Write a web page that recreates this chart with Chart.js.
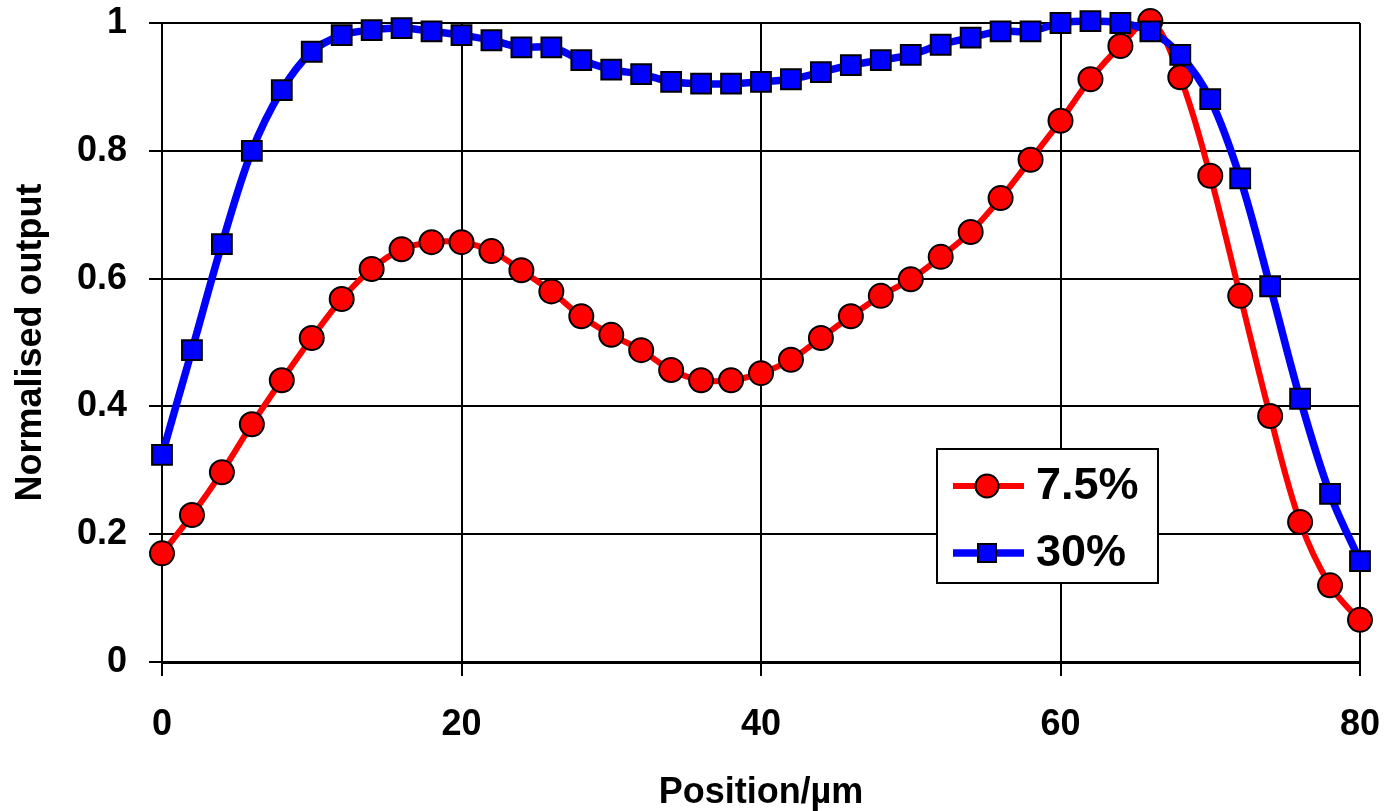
<!DOCTYPE html>
<html>
<head>
<meta charset="utf-8">
<script src="https://cdn.jsdelivr.net/npm/chart.js@4/dist/chart.umd.min.js"></script>
<style>
  html, body { margin: 0; padding: 0; background: #fff; }
  #wrap { width: 1391px; height: 811px; position: relative; }
</style>
</head>
<body>
<div id="wrap"><canvas id="profileChart"></canvas></div>
<script>
// Position along the sample (µm)
const positions = [0, 2, 4, 6, 8, 10, 12, 14, 16, 18, 20, 22, 24, 26, 28, 30, 32, 34, 36, 38, 40,
  42, 44, 46, 48, 50, 52, 54, 56, 58, 60, 62, 64, 66, 68, 70, 72, 74, 76, 78, 80, 82];

// 7.5% series (last value runs just past the axis edge)
const output75 = [0.17, 0.23, 0.297, 0.372, 0.441, 0.507, 0.568, 0.615, 0.646, 0.657, 0.657,
  0.643, 0.613, 0.58, 0.541, 0.512, 0.488, 0.457, 0.441, 0.441, 0.452, 0.473, 0.507, 0.541,
  0.573, 0.599, 0.634, 0.673, 0.726, 0.786, 0.847, 0.912, 0.964, 1.003, 0.915, 0.761, 0.573,
  0.385, 0.219, 0.12, 0.066, 0.03];

// 30% series
const output30 = [0.324, 0.488, 0.654, 0.80, 0.895, 0.955, 0.981, 0.989, 0.992, 0.987, 0.981,
  0.973, 0.962, 0.962, 0.942, 0.927, 0.92, 0.908, 0.905, 0.905, 0.908, 0.912, 0.923, 0.934,
  0.942, 0.95, 0.966, 0.977, 0.987, 0.987, 1.0, 1.003, 1.0, 0.987, 0.95, 0.881, 0.757, 0.588,
  0.412, 0.263, 0.158];

const seriesLabels = ["7.5%", "30%"];
const xTicks = [0, 20, 40, 60, 80];
const yTicks = [0, 0.2, 0.4, 0.6, 0.8, 1];

const FONT = "'Liberation Sans', Arial, sans-serif";

function toPoints(values) {
  return values.map((v, i) => ({ x: positions[i], y: v }));
}

// drop the label-overflow padding so the plot box sits where the original does
function noScalePadding(s) {
  s.paddingLeft = 0;
  s.paddingRight = 0;
  s.paddingTop = 0;
  s.paddingBottom = 0;
}

// Draws the boxed legend inside the plot, like the original figure
const boxLegend = {
  id: "boxLegend",
  afterDatasetsDraw(chart) {
    const ctx = chart.ctx;
    const left = 937, top = 449, w = 221, h = 134;
    ctx.save();
    ctx.fillStyle = "#fff";
    ctx.fillRect(left, top, w, h);
    ctx.lineWidth = 2;
    ctx.strokeStyle = "#000";
    ctx.strokeRect(left, top, w, h);

    const rows = [486, 553];
    chart.data.datasets.forEach((ds, i) => {
      const y = rows[i];
      ctx.strokeStyle = ds.borderColor;
      ctx.lineWidth = ds.borderWidth;
      ctx.beginPath();
      ctx.moveTo(953, y);
      ctx.lineTo(1024, y);
      ctx.stroke();

      ctx.fillStyle = ds.pointBackgroundColor;
      ctx.strokeStyle = "#000";
      ctx.lineWidth = 2;
      ctx.beginPath();
      if (ds.pointStyle === "rect") {
        ctx.rect(987 - 9, y - 9, 18, 18);
      } else {
        ctx.arc(987, y, 11.5, 0, Math.PI * 2);
      }
      ctx.fill();
      ctx.stroke();

      ctx.fillStyle = "#000";
      ctx.font = "bold 45px " + FONT;
      ctx.textAlign = "left";
      ctx.textBaseline = "middle";
      ctx.fillText(ds.label, 1036, y + 1);
    });
    ctx.restore();
  }
};

const ctx = document.getElementById("profileChart").getContext("2d");
new Chart(ctx, {
  type: "line",
  data: {
    datasets: [
      {
        label: seriesLabels[0],
        data: toPoints(output75),
        borderColor: "#ff0000",
        backgroundColor: "#ff0000",
        pointBackgroundColor: "#ff0000",
        pointBorderColor: "#000",
        pointBorderWidth: 2,
        pointStyle: "circle",
        pointRadius: (c) => (c.raw && c.raw.x > 80 ? 0 : 12),
        borderWidth: 6,
        tension: 0.35,
        clip: { left: 15, top: 15, right: 13, bottom: 15 },
        order: 1
      },
      {
        label: seriesLabels[1],
        data: toPoints(output30),
        borderColor: "#0000ff",
        backgroundColor: "#0000ff",
        pointBackgroundColor: "#0000ff",
        pointBorderColor: "#000",
        pointBorderWidth: 2,
        pointStyle: "rect",
        pointRadius: 14,
        borderWidth: 7.5,
        tension: 0.35,
        clip: { left: 15, top: 15, right: 15, bottom: 15 },
        order: 0
      }
    ]
  },
  options: {
    responsive: true,
    maintainAspectRatio: false,
    animation: false,
    events: [],
    layout: { padding: { top: 23, right: 31, bottom: 0, left: 0 } },
    plugins: {
      legend: { display: false },
      tooltip: { enabled: false }
    },
    scales: {
      x: {
        type: "linear",
        min: 0,
        max: 80,
        afterBuildTicks: (s) => { s.ticks = xTicks.map((v) => ({ value: v })); },
        afterFit: (s) => { s.height = 149; noScalePadding(s); },
        ticks: {
          color: "#000",
          padding: 27,
          maxRotation: 0,
          font: { family: FONT, size: 36, weight: "bold" }
        },
        grid: { color: "#000", lineWidth: 2, tickLength: 14 },
        border: { color: "#000", width: 3 },
        title: {
          display: true,
          text: "Position/µm",
          color: "#000",
          padding: { top: 0, bottom: 0 },
          font: { family: FONT, size: 36, weight: "bold", lineHeight: 1 }
        }
      },
      y: {
        min: 0,
        max: 1,
        afterBuildTicks: (s) => { s.ticks = yTicks.map((v) => ({ value: v })); },
        afterFit: (s) => { s.width = 162; noScalePadding(s); },
        ticks: {
          color: "#000",
          padding: 22,
          callback: (v) => String(Math.round(v * 10) / 10),
          font: { family: FONT, size: 36, weight: "bold" }
        },
        grid: { color: "#000", lineWidth: 2, tickLength: 13 },
        border: { color: "#000", width: 2 },
        title: {
          display: true,
          text: "Normalised output",
          color: "#000",
          padding: { top: 13, bottom: 0 },
          font: { family: FONT, size: 36, weight: "bold", lineHeight: 1 }
        }
      }
    }
  },
  plugins: [boxLegend]
});
</script>
</body>
</html>
